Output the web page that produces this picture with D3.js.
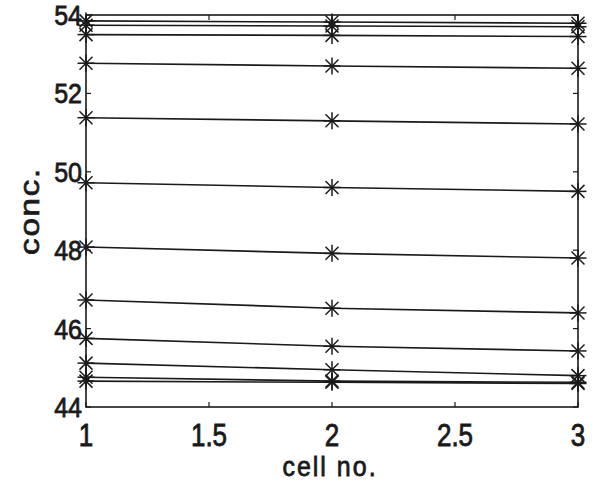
<!DOCTYPE html>
<html><head><meta charset="utf-8">
<script src="https://cdn.jsdelivr.net/npm/d3@7"></script>
<style>body{margin:0;background:#fff}svg{display:block}</style>
</head><body>
<script>
const cells = [1, 2, 3];
const s1  = [53.85, 53.82, 53.79];
const s2  = [53.74, 53.72, 53.70];
const s3  = [53.50, 53.48, 53.45];
const s4  = [52.77, 52.70, 52.64];
const s5  = [51.38, 51.30, 51.22];
const s6  = [49.72, 49.60, 49.50];
const s7  = [48.08, 47.92, 47.80];
const s8  = [46.73, 46.52, 46.40];
const s9  = [45.75, 45.55, 45.43];
const s10 = [45.12, 44.95, 44.80];
const s11 = [44.76, 44.66, 44.63];
const s12 = [44.66, 44.63, 44.60];
const series = [s1,s2,s3,s4,s5,s6,s7,s8,s9,s10,s11,s12];
const xTicks = [1, 1.5, 2, 2.5, 3];
const xTickLabels = ["1", "1.5", "2", "2.5", "3"];
const yTicks = [44, 46, 48, 50, 52, 54];
const xLabel = "cell no.";
const yLabel = "conc.";

const W = 597, H = 488;
const L = 86, R = 578, T = 15, B = 407;
const svg = d3.select("body").append("svg").attr("width", W).attr("height", H);
const x = d3.scaleLinear().domain([1, 3]).range([L, R]);
const y = d3.scaleLinear().domain([44, 54]).range([B, T]);
const ink = "#1a1a1a";
const font = "'Liberation Sans', Arial, Helvetica, sans-serif";
const stretch = 1.18;

function styleText(sel, size) {
  sel.attr("font-family", font).attr("font-size", size).attr("fill", ink)
     .attr("stroke", ink).attr("stroke-width", 0.7).attr("paint-order", "stroke");
  return sel;
}

// frame
svg.append("rect").attr("x", L).attr("y", T).attr("width", R - L).attr("height", B - T)
  .attr("fill", "none").attr("stroke", ink).attr("stroke-width", 1.6);

// inward ticks
const tl = 5;
xTicks.forEach(t => {
  svg.append("line").attr("x1", x(t)).attr("x2", x(t)).attr("y1", B).attr("y2", B - tl).attr("stroke", ink).attr("stroke-width", 1.2);
  svg.append("line").attr("x1", x(t)).attr("x2", x(t)).attr("y1", T).attr("y2", T + tl).attr("stroke", ink).attr("stroke-width", 1.2);
});
yTicks.forEach(t => {
  svg.append("line").attr("x1", L).attr("x2", L + tl).attr("y1", y(t)).attr("y2", y(t)).attr("stroke", ink).attr("stroke-width", 1.2);
  svg.append("line").attr("x1", R).attr("x2", R - tl).attr("y1", y(t)).attr("y2", y(t)).attr("stroke", ink).attr("stroke-width", 1.2);
});

// tick labels
styleText(svg.append("g").selectAll("text").data(xTicks).join("text")
  .attr("transform", d => `translate(${x(d)},446) scale(1,${stretch})`)
  .attr("text-anchor", "middle"), 26)
  .text((d, i) => xTickLabels[i]);
styleText(svg.append("g").selectAll("text").data(yTicks).join("text")
  .attr("transform", d => `translate(${L - 4},${y(d) + 10}) scale(1,1.1)`)
  .attr("text-anchor", "end"), 25)
  .text(d => d);

// axis labels
styleText(svg.append("text").attr("transform", `translate(${(L + R) / 2 - 2},476) scale(1,1.12)`)
  .attr("text-anchor", "middle"), 25)
  .attr("letter-spacing", 2).text(xLabel);
styleText(svg.append("text").attr("transform", `translate(39,${(T + B) / 2}) rotate(-90) scale(${stretch},1)`)
  .attr("text-anchor", "middle"), 28)
  .attr("letter-spacing", 1.5).text(yLabel);

// lines
const line = d3.line().x((d, i) => x(cells[i])).y(d => y(d));
svg.append("g").selectAll("path").data(series).join("path")
  .attr("d", line).attr("fill", "none").attr("stroke", ink).attr("stroke-width", 1.6);

// asterisk markers
const m = 8.5, md = 6.5;
const mk = svg.append("g").attr("stroke", ink).attr("stroke-width", 1.5);
series.forEach(s => s.forEach((v, i) => {
  const cx = x(cells[i]), cy = y(v);
  mk.append("line").attr("x1", cx - m).attr("x2", cx + m).attr("y1", cy).attr("y2", cy);
  mk.append("line").attr("x1", cx).attr("x2", cx).attr("y1", cy - m).attr("y2", cy + m);
  mk.append("line").attr("x1", cx - md).attr("x2", cx + md).attr("y1", cy - md).attr("y2", cy + md);
  mk.append("line").attr("x1", cx - md).attr("x2", cx + md).attr("y1", cy + md).attr("y2", cy - md);
}));
</script>
</body></html>
